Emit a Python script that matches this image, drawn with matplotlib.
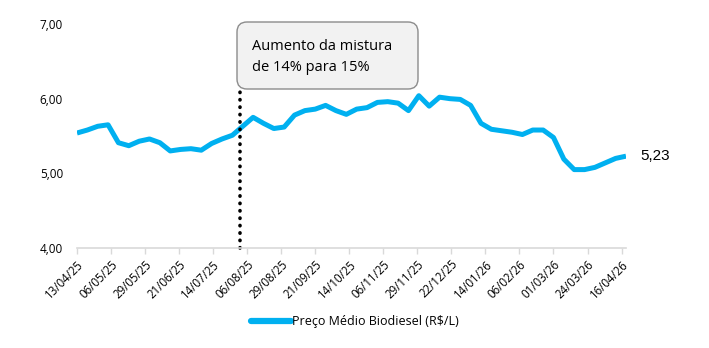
import numpy as np
import pandas as pd
import matplotlib
matplotlib.use("Agg")
import matplotlib.pyplot as plt
import matplotlib.dates as mdates
from matplotlib.patches import FancyBboxPatch
from matplotlib.transforms import IdentityTransform

plt.rcParams['font.family'] = ['Open Sans', 'DejaVu Sans']

# dados semanais (R$/L)
inicio = "2025-04-13"
precos = [5.54, 5.58, 5.63, 5.65, 5.41, 5.37, 5.43, 5.46, 5.41, 5.30,
          5.32, 5.33, 5.31, 5.40, 5.46, 5.51, 5.63, 5.75, 5.67, 5.60,
          5.62, 5.78, 5.84, 5.86, 5.91, 5.84, 5.79, 5.86, 5.88, 5.95,
          5.96, 5.94, 5.84, 6.04, 5.90, 6.02, 6.00, 5.99, 5.91, 5.67,
          5.59, 5.57, 5.55, 5.52, 5.58, 5.58, 5.48, 5.19, 5.05, 5.05,
          5.08, 5.14, 5.20, 5.23]
datas = pd.date_range(inicio, periods=len(precos), freq="7D")

tick_labels = ["13/04/25", "06/05/25", "29/05/25", "21/06/25", "14/07/25",
               "06/08/25", "29/08/25", "21/09/25", "14/10/25", "06/11/25",
               "29/11/25", "22/12/25", "14/01/26", "06/02/26", "01/03/26",
               "24/03/26", "16/04/26"]
tick_datas = pd.to_datetime(tick_labels, format="%d/%m/%y")
data_mistura = pd.Timestamp("2025-08-01")
nota = "Aumento da mistura\nde 14% para 15%"

azul = "#00B0F0"

fig = plt.figure(figsize=(7.09, 3.48), dpi=100)
ax = fig.add_axes([77/709, 1-248/348, (626-77)/709, (248-24)/348])

ax.plot(datas, precos, color=azul, lw=3.6, solid_joinstyle='round',
        solid_capstyle='butt', label="Preço Médio Biodiesel (R$/L)")

# linha pontilhada da mudança de mistura
ax.plot([data_mistura, data_mistura], [4.0, 6.13], color='black', lw=2.6,
        linestyle=(0, (0.1, 1.95)), dash_capstyle='round', clip_on=False)

ax.set_ylim(4, 7)
ax.set_yticks([4, 5, 6, 7])
ax.set_yticklabels(["4,00", "5,00", "6,00", "7,00"], fontsize=8.5)
ax.set_xlim(datas[0], datas[-1])
ax.set_xticks(tick_datas)
ax.set_xticklabels(tick_labels, rotation=45, ha='right',
                   rotation_mode='anchor', fontsize=8.3)

for s in ['top', 'right', 'left']:
    ax.spines[s].set_visible(False)
ax.spines['bottom'].set_color('#d9d9d9')
ax.spines['bottom'].set_linewidth(1.2)
ax.tick_params(axis='y', length=0, pad=10)
ax.tick_params(axis='x', length=4, color='#d9d9d9', width=1, pad=3)

# rótulo do último valor
ax.annotate(f"{precos[-1]:.2f}".replace('.', ','), xy=(datas[-1], precos[-1]),
            xytext=(10, 0), textcoords='offset points', va='center', ha='left',
            fontsize=11, family=['Liberation Sans', 'DejaVu Sans'])

# caixa da nota
caixa = FancyBboxPatch((237, 348-89), 181, 67,
                       boxstyle="round,pad=0,rounding_size=10",
                       transform=IdentityTransform(), facecolor='#f2f2f2',
                       edgecolor='#8c8c8c', lw=1)
fig.add_artist(caixa)
fig.text(252/709, 1-57/348, nota, fontsize=10.5, va='center', ha='left',
         linespacing=1.6)

leg = fig.legend(loc='center', bbox_to_anchor=(0.5, 1-322/348), frameon=False,
                 fontsize=9, handlelength=3.2, handletextpad=0.1)
for h in leg.get_lines():
    h.set_linewidth(4.5)
    h.set_solid_capstyle('round')

fig.savefig("out.png", dpi=100)
